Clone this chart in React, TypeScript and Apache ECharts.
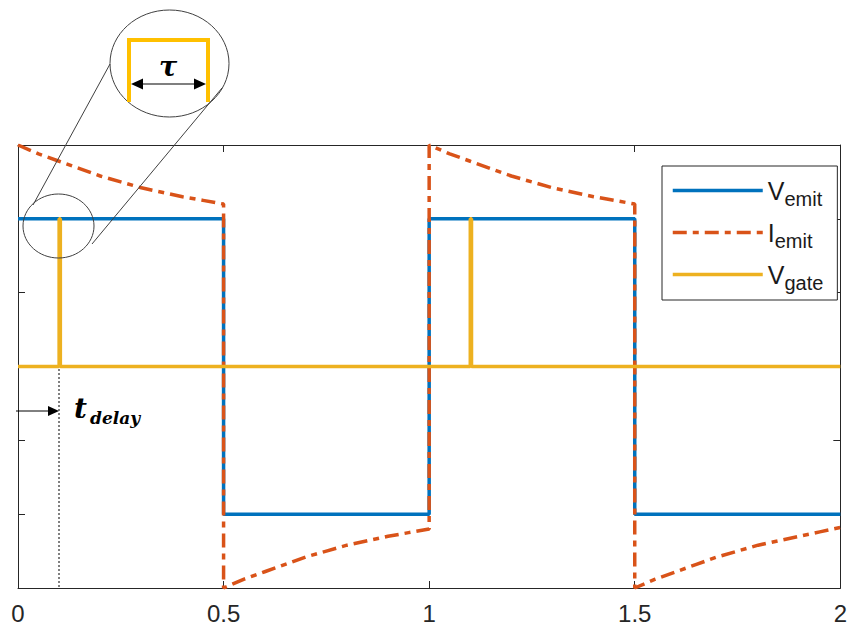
import React, { useEffect, useRef } from "react";
import * as echarts from "echarts";

// ---- data ----
const xTicks = [0, 0.5, 1, 1.5, 2];

const vemitT = [0, 0.5, 0.5, 1, 1, 1.5, 1.5, 2];
const vemitV = [1, 1, -1, -1, 1, 1, -1, -1];

const iemitT = [
  0, 0.05, 0.1, 0.15, 0.2, 0.25, 0.3, 0.35, 0.4, 0.45, 0.5,
  0.5, 0.55, 0.6, 0.65, 0.7, 0.75, 0.8, 0.85, 0.9, 0.95, 1.0,
  1.0, 1.05, 1.1, 1.15, 1.2, 1.25, 1.3, 1.35, 1.4, 1.45, 1.5,
  1.5, 1.55, 1.6, 1.65, 1.7, 1.75, 1.8, 1.85, 1.9, 1.95, 2.0,
];
const iemitV = [
  1.5, 1.44, 1.39, 1.34, 1.29, 1.25, 1.21, 1.18, 1.15, 1.125, 1.1,
  -1.5, -1.44, -1.39, -1.34, -1.29, -1.25, -1.21, -1.18, -1.15, -1.125, -1.1,
  1.5, 1.44, 1.39, 1.34, 1.29, 1.25, 1.21, 1.18, 1.15, 1.125, 1.1,
  -1.5, -1.44, -1.39, -1.34, -1.29, -1.25, -1.21, -1.18, -1.15, -1.12, -1.09,
];

const vgateT = [0, 0.1, 0.1, 0.103, 0.103, 1.1, 1.1, 1.103, 1.103, 2];
const vgateV = [0, 0, 1, 1, 0, 0, 1, 1, 0, 0];

const seriesNames = ["Vemit", "Iemit", "Vgate"];
const legendMain: Record<string, string> = { Vemit: "V", Iemit: "I", Vgate: "V" };
const legendSub: Record<string, string> = { Vemit: "emit", Iemit: "emit", Vgate: "gate" };

const colors = ["#0072BD", "#D95319", "#EDB120"];

const pairs = (t: number[], v: number[]) => t.map((x, i) => [x, v[i]]);

export default function App() {
  const ref = useRef<HTMLDivElement>(null);

  useEffect(() => {
    if (!ref.current) return;
    const chart = echarts.init(ref.current, null, { renderer: "svg" });
    const axisColor = "#262626";
    const lineStyleAxis = { color: axisColor, width: 1 };

    const mkX = (pos: "bottom" | "top", labels: boolean) => ({
      type: "value",
      min: 0,
      max: 2,
      interval: 0.5,
      position: pos,
      axisLine: { show: true, onZero: false, lineStyle: lineStyleAxis },
      axisTick: { show: true, inside: true, length: 7, lineStyle: lineStyleAxis },
      axisLabel: {
        show: labels,
        fontSize: 24,
        color: axisColor,
        margin: 13,
        fontFamily: "Liberation Sans, Arial, sans-serif",
        formatter: (v: number) => (xTicks.includes(v) ? String(v) : ""),
      },
      splitLine: { show: false },
    });
    const mkY = (pos: "left" | "right") => ({
      type: "value",
      min: -1.5,
      max: 1.5,
      interval: 0.5,
      position: pos,
      axisLine: { show: true, onZero: false, lineStyle: lineStyleAxis },
      axisTick: { show: true, inside: true, length: 7, lineStyle: lineStyleAxis },
      axisLabel: { show: false },
      splitLine: { show: false },
    });

    const black = "#000";
    const gray = "#404040";

    chart.setOption({
      animation: false,
      backgroundColor: "#fff",
      grid: { left: 18, right: 9, top: 145, bottom: 42, containLabel: false },
      xAxis: [mkX("bottom", true), mkX("top", false)],
      yAxis: [mkY("left"), mkY("right")],
      legend: {
        data: seriesNames,
        orient: "vertical",
        left: 662,
        top: 166,
        padding: [12, 14, 7, 9],
        icon: "inherit",
        itemWidth: 90,
        itemHeight: 14,
        itemGap: 11,
        borderColor: axisColor,
        borderWidth: 1,
        backgroundColor: "#fff",
        selectedMode: false,
        itemStyle: { opacity: 0 },
        lineStyle: { width: 3.5 },
        formatter: (name: string) => `{m|${legendMain[name]}}{s|${legendSub[name]}}`,
        textStyle: {
          color: "#1a1a1a",
          fontFamily: "Liberation Sans, Arial, sans-serif",
          rich: {
            m: { fontSize: 25, fontFamily: "Liberation Sans, Arial, sans-serif", color: "#1a1a1a" },
            s: {
              fontSize: 20,
              fontFamily: "Liberation Sans, Arial, sans-serif",
              color: "#1a1a1a",
              padding: [17, 0, 0, 0],
            },
          },
        },
      },
      series: [
        {
          name: "Vemit",
          type: "line",
          data: pairs(vemitT, vemitV),
          showSymbol: false,
          symbol: "none",
          z: 2,
          lineStyle: { color: colors[0], width: 3.5 },
          itemStyle: { color: colors[0] },
        },
        {
          name: "Iemit",
          type: "line",
          data: pairs(iemitT, iemitV),
          showSymbol: false,
          symbol: "none",
          z: 3,
          lineStyle: { color: colors[1], width: 3.5, type: [14, 6, 6, 6] },
          itemStyle: { color: colors[1] },
        },
        {
          name: "Vgate",
          type: "line",
          data: pairs(vgateT, vgateV),
          showSymbol: false,
          symbol: "none",
          z: 4,
          lineStyle: { color: colors[2], width: 3.5 },
          itemStyle: { color: colors[2] },
        },
      ],
      graphic: [
        // magnifier
        {
          type: "ellipse",
          shape: { cx: 58.5, cy: 226, rx: 35.5, ry: 32 },
          style: { fill: "none", stroke: gray, lineWidth: 1 },
          z: 100,
        },
        {
          type: "ellipse",
          shape: { cx: 169.5, cy: 63.5, rx: 59.5, ry: 53.5 },
          style: { fill: "none", stroke: gray, lineWidth: 1 },
          z: 100,
        },
        {
          type: "line",
          shape: { x1: 33, y1: 205, x2: 110, y2: 64 },
          style: { stroke: gray, lineWidth: 1 },
          z: 100,
        },
        {
          type: "line",
          shape: { x1: 92, y1: 244, x2: 222, y2: 88 },
          style: { stroke: gray, lineWidth: 1 },
          z: 100,
        },
        {
          type: "polyline",
          shape: { points: [[129, 102], [129, 40], [208, 40], [208, 102]] },
          style: { fill: "none", stroke: "#FFC000", lineWidth: 4 },
          z: 100,
        },
        {
          type: "line",
          shape: { x1: 140, y1: 84, x2: 197, y2: 84 },
          style: { stroke: black, lineWidth: 1.2 },
          z: 100,
        },
        {
          type: "polygon",
          shape: { points: [[131, 84], [143, 78.5], [143, 89.5]] },
          style: { fill: black },
          z: 100,
        },
        {
          type: "polygon",
          shape: { points: [[206, 84], [194, 78.5], [194, 89.5]] },
          style: { fill: black },
          z: 100,
        },
        {
          type: "text",
          x: 168,
          y: 66,
          style: {
            text: "τ",
            fill: black,
            font: "italic bold 27px 'DejaVu Serif', serif",
            align: "center",
            verticalAlign: "middle",
          },
          z: 100,
        },
        // t_delay
        {
          type: "line",
          shape: { x1: 59, y1: 369, x2: 59, y2: 588 },
          style: { stroke: black, lineWidth: 1, lineDash: [2, 2] },
          z: 100,
        },
        {
          type: "line",
          shape: { x1: 16, y1: 411, x2: 50, y2: 411 },
          style: { stroke: black, lineWidth: 1 },
          z: 100,
        },
        {
          type: "polygon",
          shape: { points: [[59, 411], [48, 406], [48, 416]] },
          style: { fill: black },
          z: 100,
        },
        {
          type: "text",
          x: 74,
          y: 408,
          style: {
            text: "t",
            fill: black,
            font: "italic bold 28px 'DejaVu Serif', serif",
            align: "left",
            verticalAlign: "middle",
          },
          z: 100,
        },
        {
          type: "text",
          x: 90,
          y: 418,
          style: {
            text: "delay",
            fill: black,
            font: "italic bold 17px 'DejaVu Serif', serif",
            align: "left",
            verticalAlign: "middle",
          },
          z: 100,
        },
      ],
    });
    return () => chart.dispose();
  }, []);

  return (
    <div
      ref={ref}
      style={{ position: "absolute", left: 0, top: 0, width: 850, height: 630, background: "#fff" }}
    />
  );
}
